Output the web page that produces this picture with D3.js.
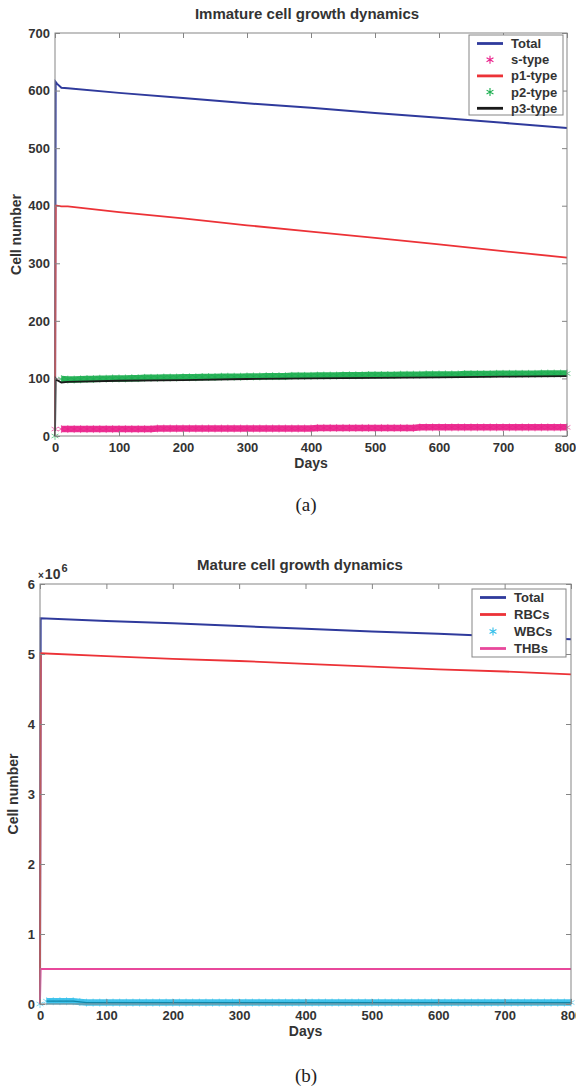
<!DOCTYPE html>
<html>
<head>
<meta charset="utf-8">
<script src="https://cdn.jsdelivr.net/npm/d3@7"></script>
<style>
  body { margin: 0; background: #fff; }
  svg { display: block; font-family: "Liberation Sans", Arial, sans-serif; }
</style>
</head>
<body>
<script>
// ---- panel (a): immature cells ----
const lineDaysA = [0, 1, 3, 10, 20, 100, 200, 300, 400, 500, 600, 700, 800];
const totalA = [0, 615, 612, 605, 604, 596, 587, 578, 570, 561, 553, 544, 535];
const p1A    = [0, 400, 400, 399, 399, 389, 378, 366, 355, 344, 333, 321, 310];
const p3A    = [0, 100, 97, 93, 94, 96, 97, 99, 100, 101, 102, 103, 104];

const markDays = [0, 10, 20, 30, 40, 50, 60, 70, 80, 90, 100, 110, 120, 130, 140, 150, 160, 170, 180, 190,
  200, 210, 220, 230, 240, 250, 260, 270, 280, 290, 300, 310, 320, 330, 340, 350, 360, 370, 380, 390,
  400, 410, 420, 430, 440, 450, 460, 470, 480, 490, 500, 510, 520, 530, 540, 550, 560, 570, 580, 590,
  600, 610, 620, 630, 640, 650, 660, 670, 680, 690, 700, 710, 720, 730, 740, 750, 760, 770, 780, 790, 800];
const sTypeA = [12, 12, 12, 12, 12, 12, 12, 12, 12, 12, 12, 12, 12, 12, 12, 12, 13, 13, 13, 13,
  13, 13, 13, 13, 13, 13, 13, 13, 13, 13, 13, 13, 13, 13, 13, 13, 13, 13, 13, 13,
  13, 14, 14, 14, 14, 14, 14, 14, 14, 14, 14, 14, 14, 14, 14, 14, 14, 15, 15, 15,
  15, 15, 15, 15, 15, 15, 15, 15, 15, 15, 15, 15, 15, 15, 15, 15, 15, 15, 15, 15, 15];
const p2A = [0, 99, 98, 98, 98.5, 99, 99, 99.5, 99.5, 100, 100, 100, 100.5, 100.5, 101, 101, 101, 101.5, 101.5, 101.5,
  102, 102, 102, 102.5, 102.5, 102.5, 103, 103, 103, 103, 103.5, 103.5, 103.5, 104, 104, 104, 104, 104.5, 104.5, 104.5,
  104.5, 105, 105, 105, 105, 105.5, 105.5, 105.5, 105.5, 106, 106, 106, 106, 106, 106.5, 106.5, 106.5, 106.5, 107, 107,
  107, 107, 107, 107, 107.5, 107.5, 107.5, 107.5, 107.5, 108, 108, 108, 108, 108, 108, 108, 108.5, 108.5, 108.5, 108.5, 108.5];
const yTicksA = [0, 100, 200, 300, 400, 500, 600, 700];

// ---- panel (b): mature cells ----
const lineDaysB = [0, 1, 100, 200, 300, 400, 500, 600, 700, 800];
const totalB = [0, 5.51e6, 5.47e6, 5.44e6, 5.40e6, 5.36e6, 5.32e6, 5.29e6, 5.25e6, 5.21e6];
const rbcB   = [0, 5.01e6, 4.97e6, 4.93e6, 4.90e6, 4.86e6, 4.82e6, 4.78e6, 4.75e6, 4.71e6];
const thbB   = [0, 0.5e6, 0.5e6, 0.5e6, 0.5e6, 0.5e6, 0.5e6, 0.5e6, 0.5e6, 0.5e6];
const wbcB = [0, 0.04e6, 0.04e6, 0.04e6, 0.04e6, 0.04e6, 0.03e6, 0.02e6, 0.02e6, 0.02e6, 0.02e6, 0.02e6, 0.02e6, 0.02e6, 0.02e6, 0.02e6, 0.02e6, 0.02e6, 0.02e6, 0.02e6,
  0.02e6, 0.02e6, 0.02e6, 0.02e6, 0.02e6, 0.02e6, 0.02e6, 0.02e6, 0.02e6, 0.02e6, 0.02e6, 0.02e6, 0.02e6, 0.02e6, 0.02e6, 0.02e6, 0.02e6, 0.02e6, 0.02e6, 0.02e6,
  0.02e6, 0.02e6, 0.02e6, 0.02e6, 0.02e6, 0.02e6, 0.02e6, 0.02e6, 0.02e6, 0.02e6, 0.02e6, 0.02e6, 0.02e6, 0.02e6, 0.02e6, 0.02e6, 0.02e6, 0.02e6, 0.02e6, 0.02e6,
  0.02e6, 0.02e6, 0.02e6, 0.02e6, 0.02e6, 0.02e6, 0.02e6, 0.02e6, 0.02e6, 0.02e6, 0.02e6, 0.02e6, 0.02e6, 0.02e6, 0.02e6, 0.02e6, 0.02e6, 0.02e6, 0.02e6, 0.02e6, 0.02e6];
const yTicksB = [0, 1e6, 2e6, 3e6, 4e6, 5e6, 6e6];

const xTicks = [0, 100, 200, 300, 400, 500, 600, 700, 800];

const W = 576, H = 1090;
const frameColor = "#858585";
const textColor = "#333";

const svg = d3.select("body").append("svg")
  .attr("width", W)
  .attr("height", H);

const asterisk = d3.symbol().type(d3.symbolAsterisk).size(44);

function drawPanel(p) {
  const x = d3.scaleLinear().domain([0, 800]).range([p.left, p.right]);
  const y = d3.scaleLinear().domain(p.yDomain).range([p.bottom, p.top]);
  const g = svg.append("g");

  // lines and markers, in plotting order
  p.series.forEach(s => {
    const pts = s.days.map((d, i) => [x(d), y(s.values[i]), d]);
    if (s.kind === "line") {
      g.append("path")
        .attr("d", d3.line()(pts))
        .attr("fill", "none")
        .attr("stroke", s.color)
        .attr("stroke-width", s.width || 1.8);
    } else {
      // overlapping markers read as a solid band
      g.append("path")
        .attr("d", d3.line().defined(d => d[2] > 0)(pts))
        .attr("fill", "none")
        .attr("stroke", s.color)
        .attr("stroke-width", 6.5)
        .attr("opacity", 0.92);
      g.append("g").selectAll("path")
        .data(pts)
        .join("path")
        .attr("transform", d => `translate(${d[0]},${d[1]})`)
        .attr("d", asterisk)
        .attr("fill", "none")
        .attr("stroke", s.color)
        .attr("stroke-width", 1)
        .attr("opacity", 0.6);
      if (s.core) {
        g.append("path")
          .attr("d", d3.line().defined(d => d[2] > 0)(pts))
          .attr("fill", "none")
          .attr("stroke", s.core)
          .attr("stroke-width", 1.3);
      }
    }
  });

  // axes with inward ticks
  const tickStyle = sel => {
    sel.select(".domain").remove();
    sel.selectAll(".tick line").attr("stroke", frameColor);
    sel.selectAll(".tick text")
      .attr("fill", textColor)
      .attr("font-size", 13)
      .attr("font-weight", "bold")
      .attr("font-family", '"Liberation Sans", Arial, sans-serif');
  };
  const xb = svg.append("g").attr("transform", `translate(0,${p.bottom})`)
    .call(d3.axisBottom(x).tickValues(xTicks).tickSize(-5).tickPadding(7))
    .call(tickStyle);
  xb.selectAll(".tick text").filter(d => d === 800).attr("dx", p.lastDx);
  svg.append("g").attr("transform", `translate(0,${p.top})`)
    .call(d3.axisTop(x).tickValues(xTicks).tickSize(-5).tickFormat(""))
    .call(tickStyle);
  svg.append("g").attr("transform", `translate(${p.left},0)`)
    .call(d3.axisLeft(y).tickValues(p.yTicks).tickSize(-5).tickPadding(5).tickFormat(p.yFormat))
    .call(tickStyle);
  svg.append("g").attr("transform", `translate(${p.right},0)`)
    .call(d3.axisRight(y).tickValues(p.yTicks).tickSize(-5).tickFormat(""))
    .call(tickStyle);

  svg.append("rect")
    .attr("x", p.left).attr("y", p.top)
    .attr("width", p.right - p.left).attr("height", p.bottom - p.top)
    .attr("fill", "none").attr("stroke", frameColor).attr("stroke-width", 1);

  // titles
  const cx = (p.left + p.right) / 2;
  svg.append("text")
    .attr("x", p.titleX).attr("y", p.top - 14)
    .attr("text-anchor", "middle")
    .attr("font-size", 15).attr("font-weight", "bold").attr("fill", textColor)
    .text(p.title);
  svg.append("text")
    .attr("x", cx).attr("y", p.bottom + 32)
    .attr("text-anchor", "middle")
    .attr("font-size", 14).attr("font-weight", "bold").attr("fill", textColor)
    .text("Days");
  svg.append("text")
    .attr("transform", `translate(${p.yLabelX},${(p.top + p.bottom) / 2}) rotate(-90)`)
    .attr("text-anchor", "middle")
    .attr("font-size", 14).attr("font-weight", "bold").attr("fill", textColor)
    .text("Cell number");
  svg.append("text")
    .attr("x", 306).attr("y", p.bottom + p.captionDy)
    .attr("text-anchor", "middle")
    .attr("font-size", 19)
    .attr("font-family", '"Liberation Serif", "Times New Roman", serif')
    .attr("fill", "#222")
    .text(p.caption);

  // legend
  const L = p.legend;
  const lg = svg.append("g");
  lg.append("rect")
    .attr("x", L.x).attr("y", L.y).attr("width", L.w).attr("height", L.h)
    .attr("fill", "#fff").attr("stroke", frameColor).attr("stroke-width", 1);
  p.series.forEach((s, i) => {
    const ry = L.y + 8.5 + i * L.step;
    if (s.kind === "line") {
      lg.append("line")
        .attr("x1", L.x + 8).attr("x2", L.x + 34)
        .attr("y1", ry).attr("y2", ry)
        .attr("stroke", s.color).attr("stroke-width", 2.8);
    } else {
      lg.append("path")
        .attr("transform", `translate(${L.x + 21},${ry})`)
        .attr("d", asterisk)
        .attr("fill", "none").attr("stroke", s.color).attr("stroke-width", 1.1);
    }
    lg.append("text")
      .attr("x", L.x + 42).attr("y", ry + 4.5)
      .attr("font-size", 13).attr("font-weight", "bold").attr("fill", textColor)
      .text(s.name);
  });
}

drawPanel({
  left: 55, right: 567, top: 33, bottom: 436,
  yDomain: [0, 700], yTicks: yTicksA, yFormat: d3.format("d"),
  yLabelX: 21, titleX: 307, captionDy: 75, lastDx: -2,
  title: "Immature cell growth dynamics",
  caption: "(a)",
  legend: { x: 469, y: 35, w: 94, h: 80, step: 16.2 },
  series: [
    { name: "Total", kind: "line", days: lineDaysA, values: totalA, color: "#2f3a9c", width: 2 },
    { name: "s-type", kind: "mark", days: markDays, values: sTypeA, color: "#ea1f8a" },
    { name: "p1-type", kind: "line", days: lineDaysA, values: p1A, color: "#ec3237" },
    { name: "p2-type", kind: "mark", days: markDays, values: p2A, color: "#1aae4e" },
    { name: "p3-type", kind: "line", days: lineDaysA, values: p3A, color: "#1a1a1a" }
  ]
});

drawPanel({
  left: 40, right: 571, top: 584, bottom: 1004,
  yDomain: [0, 6e6], yTicks: yTicksB, yFormat: d => d / 1e6,
  yLabelX: 18, titleX: 300, captionDy: 78, lastDx: 0,
  title: "Mature cell growth dynamics",
  caption: "(b)",
  legend: { x: 472, y: 589, w: 94, h: 68, step: 17 },
  series: [
    { name: "Total", kind: "line", days: lineDaysB, values: totalB, color: "#2f3a9c", width: 2 },
    { name: "RBCs", kind: "line", days: lineDaysB, values: rbcB, color: "#ec3237" },
    { name: "WBCs", kind: "mark", days: markDays, values: wbcB, color: "#35bfea", core: "#0f86a8" },
    { name: "THBs", kind: "line", days: lineDaysB, values: thbB, color: "#e8489b" }
  ]
});

// exponent label for panel (b)
const expo = svg.append("text")
  .attr("x", 38).attr("y", 579)
  .attr("font-weight", "bold").attr("fill", textColor);
expo.append("tspan").attr("font-size", 10).text("×");
expo.append("tspan").attr("font-size", 14).attr("dx", 1).text("10");
expo.append("tspan").attr("font-size", 11).attr("dy", -7).attr("dx", 1).text("6");
</script>
</body>
</html>
